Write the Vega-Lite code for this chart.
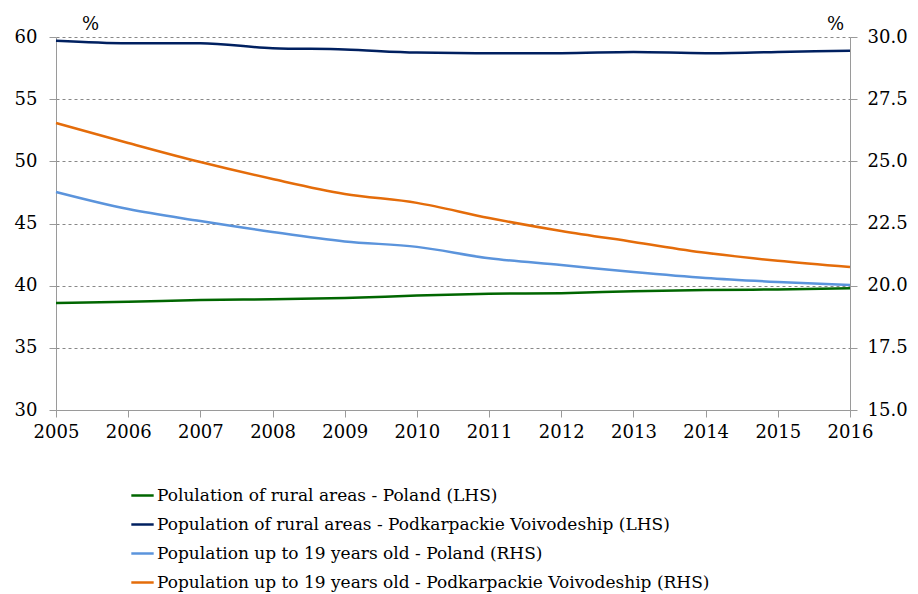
{
  "$schema": "https://vega.github.io/schema/vega-lite/v6.json",
  "width": 794,
  "height": 373,
  "autosize": {"type": "none"},
  "padding": {"left": 56, "top": 37, "right": 68, "bottom": 184},
  "background": "white",
  "config": {
    "view": {"stroke": null},
    "axis": {"labelColor": "black", "labelFontSize": 18, "domainColor": "#9a9a9a", "tickColor": "#9a9a9a", "tickSize": 7}
  },
  "data": {
    "values": [
      {"year": 2005, "series": "Polulation of rural areas - Poland (LHS)", "side": "L", "value": 38.6},
      {"year": 2006, "series": "Polulation of rural areas - Poland (LHS)", "side": "L", "value": 38.7},
      {"year": 2007, "series": "Polulation of rural areas - Poland (LHS)", "side": "L", "value": 38.85},
      {"year": 2008, "series": "Polulation of rural areas - Poland (LHS)", "side": "L", "value": 38.9},
      {"year": 2009, "series": "Polulation of rural areas - Poland (LHS)", "side": "L", "value": 39.0},
      {"year": 2010, "series": "Polulation of rural areas - Poland (LHS)", "side": "L", "value": 39.2},
      {"year": 2011, "series": "Polulation of rural areas - Poland (LHS)", "side": "L", "value": 39.35},
      {"year": 2012, "series": "Polulation of rural areas - Poland (LHS)", "side": "L", "value": 39.4},
      {"year": 2013, "series": "Polulation of rural areas - Poland (LHS)", "side": "L", "value": 39.55},
      {"year": 2014, "series": "Polulation of rural areas - Poland (LHS)", "side": "L", "value": 39.65},
      {"year": 2015, "series": "Polulation of rural areas - Poland (LHS)", "side": "L", "value": 39.7},
      {"year": 2016, "series": "Polulation of rural areas - Poland (LHS)", "side": "L", "value": 39.8},
      {"year": 2005, "series": "Population of rural areas - Podkarpackie Voivodeship (LHS)", "side": "L", "value": 59.7},
      {"year": 2006, "series": "Population of rural areas - Podkarpackie Voivodeship (LHS)", "side": "L", "value": 59.5},
      {"year": 2007, "series": "Population of rural areas - Podkarpackie Voivodeship (LHS)", "side": "L", "value": 59.5},
      {"year": 2008, "series": "Population of rural areas - Podkarpackie Voivodeship (LHS)", "side": "L", "value": 59.1},
      {"year": 2009, "series": "Population of rural areas - Podkarpackie Voivodeship (LHS)", "side": "L", "value": 59.0},
      {"year": 2010, "series": "Population of rural areas - Podkarpackie Voivodeship (LHS)", "side": "L", "value": 58.75},
      {"year": 2011, "series": "Population of rural areas - Podkarpackie Voivodeship (LHS)", "side": "L", "value": 58.7},
      {"year": 2012, "series": "Population of rural areas - Podkarpackie Voivodeship (LHS)", "side": "L", "value": 58.7},
      {"year": 2013, "series": "Population of rural areas - Podkarpackie Voivodeship (LHS)", "side": "L", "value": 58.8},
      {"year": 2014, "series": "Population of rural areas - Podkarpackie Voivodeship (LHS)", "side": "L", "value": 58.7},
      {"year": 2015, "series": "Population of rural areas - Podkarpackie Voivodeship (LHS)", "side": "L", "value": 58.8},
      {"year": 2016, "series": "Population of rural areas - Podkarpackie Voivodeship (LHS)", "side": "L", "value": 58.9},
      {"year": 2005, "series": "Population up to 19 years old - Poland (RHS)", "side": "R", "value": 23.77},
      {"year": 2006, "series": "Population up to 19 years old - Poland (RHS)", "side": "R", "value": 23.08},
      {"year": 2007, "series": "Population up to 19 years old - Poland (RHS)", "side": "R", "value": 22.6},
      {"year": 2008, "series": "Population up to 19 years old - Poland (RHS)", "side": "R", "value": 22.16},
      {"year": 2009, "series": "Population up to 19 years old - Poland (RHS)", "side": "R", "value": 21.78},
      {"year": 2010, "series": "Population up to 19 years old - Poland (RHS)", "side": "R", "value": 21.56},
      {"year": 2011, "series": "Population up to 19 years old - Poland (RHS)", "side": "R", "value": 21.1},
      {"year": 2012, "series": "Population up to 19 years old - Poland (RHS)", "side": "R", "value": 20.83},
      {"year": 2013, "series": "Population up to 19 years old - Poland (RHS)", "side": "R", "value": 20.55},
      {"year": 2014, "series": "Population up to 19 years old - Poland (RHS)", "side": "R", "value": 20.31},
      {"year": 2015, "series": "Population up to 19 years old - Poland (RHS)", "side": "R", "value": 20.15},
      {"year": 2016, "series": "Population up to 19 years old - Poland (RHS)", "side": "R", "value": 20.03},
      {"year": 2005, "series": "Population up to 19 years old - Podkarpackie Voivodeship (RHS)", "side": "R", "value": 26.54},
      {"year": 2006, "series": "Population up to 19 years old - Podkarpackie Voivodeship (RHS)", "side": "R", "value": 25.74},
      {"year": 2007, "series": "Population up to 19 years old - Podkarpackie Voivodeship (RHS)", "side": "R", "value": 24.97},
      {"year": 2008, "series": "Population up to 19 years old - Podkarpackie Voivodeship (RHS)", "side": "R", "value": 24.29},
      {"year": 2009, "series": "Population up to 19 years old - Podkarpackie Voivodeship (RHS)", "side": "R", "value": 23.69},
      {"year": 2010, "series": "Population up to 19 years old - Podkarpackie Voivodeship (RHS)", "side": "R", "value": 23.33},
      {"year": 2011, "series": "Population up to 19 years old - Podkarpackie Voivodeship (RHS)", "side": "R", "value": 22.72},
      {"year": 2012, "series": "Population up to 19 years old - Podkarpackie Voivodeship (RHS)", "side": "R", "value": 22.2},
      {"year": 2013, "series": "Population up to 19 years old - Podkarpackie Voivodeship (RHS)", "side": "R", "value": 21.76},
      {"year": 2014, "series": "Population up to 19 years old - Podkarpackie Voivodeship (RHS)", "side": "R", "value": 21.32},
      {"year": 2015, "series": "Population up to 19 years old - Podkarpackie Voivodeship (RHS)", "side": "R", "value": 21.0},
      {"year": 2016, "series": "Population up to 19 years old - Podkarpackie Voivodeship (RHS)", "side": "R", "value": 20.75}
    ]
  },
  "encoding": {
    "x": {
      "field": "year", "type": "quantitative",
      "scale": {"domain": [2005, 2016], "nice": false, "zero": false},
      "axis": {"title": null, "values": [2005,2006,2007,2008,2009,2010,2011,2012,2013,2014,2015,2016], "format": "d", "grid": false, "labelPadding": 6, "labelFlush": false, "labelFont": "DejaVu Serif"}
    },
    "color": {
      "field": "series", "type": "nominal",
      "scale": {
        "domain": ["Polulation of rural areas - Poland (LHS)", "Population of rural areas - Podkarpackie Voivodeship (LHS)", "Population up to 19 years old - Poland (RHS)", "Population up to 19 years old - Podkarpackie Voivodeship (RHS)"],
        "range": ["#006600", "#002060", "#5B94DC", "#E46C0A"]
      },
      "legend": {
        "title": null, "orient": "none", "legendX": 74, "legendY": 446, "direction": "vertical",
        "symbolType": "stroke", "symbolSize": 500, "symbolStrokeWidth": 2.5,
        "labelFont": "DejaVu Serif", "labelFontSize": 17, "labelColor": "black", "labelLimit": 800,
        "rowPadding": 8, "labelOffset": 2
      }
    }
  },
  "layer": [
    {
      "transform": [{"filter": "datum.side === 'L'"}],
      "mark": {"type": "line", "strokeWidth": 2.5, "interpolate": "monotone"},
      "encoding": {
        "y": {
          "field": "value", "type": "quantitative",
          "scale": {"domain": [30, 60], "nice": false, "zero": false},
          "axis": {"orient": "left", "values": [30,35,40,45,50,55,60], "grid": true, "gridColor": "#888888", "gridDash": [3,3], "gridWidth": 1, "labelPadding": 12, "labelFont": "DejaVu Serif",
            "title": "%", "titleFont": "DejaVu Serif", "titleAngle": 0, "titleFontSize": 18, "titleFontWeight": "normal", "titleX": 34, "titleY": -8, "titleAlign": "center", "titleBaseline": "alphabetic"}
        }
      }
    },
    {
      "transform": [{"filter": "datum.side === 'R'"}],
      "mark": {"type": "line", "strokeWidth": 2.5, "interpolate": "monotone"},
      "encoding": {
        "y": {
          "field": "value", "type": "quantitative",
          "scale": {"domain": [15, 30], "nice": false, "zero": false},
          "axis": {"orient": "right", "values": [15,17.5,20,22.5,25,27.5,30], "format": ".1f", "grid": false, "labelPadding": 10, "labelFont": "DejaVu Serif",
            "title": "%", "titleFont": "DejaVu Serif", "titleAngle": 0, "titleFontSize": 18, "titleFontWeight": "normal", "titleX": -15, "titleY": -8, "titleAlign": "center", "titleBaseline": "alphabetic"}
        }
      }
    }
  ],
  "resolve": {"scale": {"y": "independent"}}
}
